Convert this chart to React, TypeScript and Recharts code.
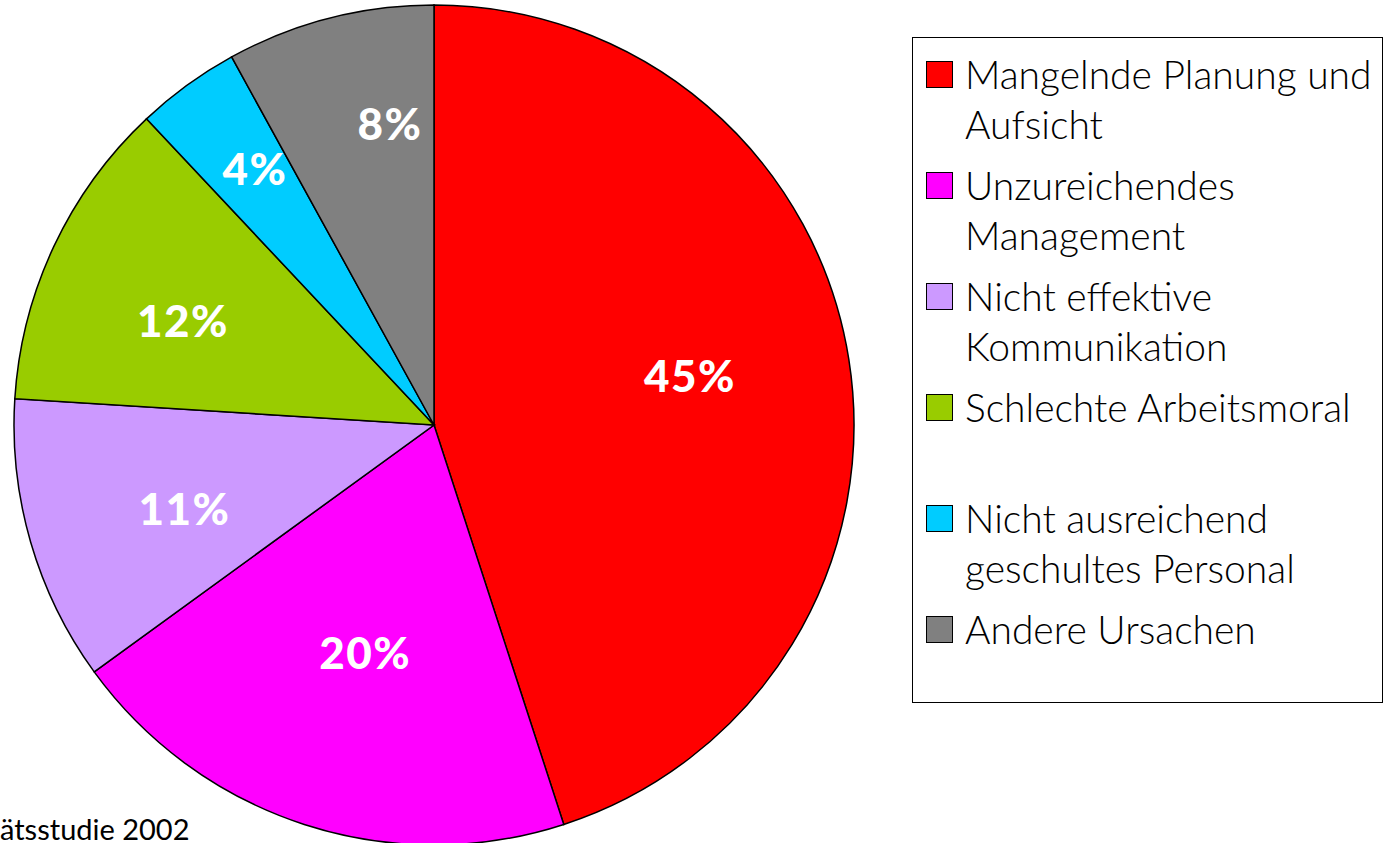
import { PieChart, Pie, Cell, Legend } from "recharts";

const categories = [
    "Mangelnde Planung und Aufsicht",
    "Unzureichendes Management",
    "Nicht effektive Kommunikation",
    "Schlechte Arbeitsmoral",
    "Nicht ausreichend geschultes Personal",
    "Andere Ursachen",
];
const shares = [45, 20, 11, 12, 4, 8];
const colors = ["#FF0000", "#FF00FF", "#CC99FF", "#99CC00", "#00CCFF", "#808080"];
const source = "ätsstudie 2002";

const data = categories.map((name, i) => ({ name, value: shares[i] }));

// labels were hand placed in the original, so nudge them per slice
const labelRadius = [0.621, 0.564, 0.626, 0.648, 0.745, 0.726];
const labelTurn = [-2, -1.1, -2.2, -2.5, 1.1, 6.1]; // degrees, clockwise
const RAD = Math.PI / 180;

const renderLabel = (props: any) => {
    const { cx, cy, midAngle, outerRadius, index, value } = props;
    const r = outerRadius * labelRadius[index];
    const a = (midAngle - labelTurn[index]) * RAD;
    const x = cx + r * Math.cos(-a);
    const y = cy + r * Math.sin(-a);
    return (
        <text
            x={x}
            y={y}
            fill="#fff"
            textAnchor="middle"
            dominantBaseline="central"
            style={{ fontFamily: "Lato", fontWeight: 900, fontSize: 44, letterSpacing: 1.5 }}
        >
            {value}%
        </text>
    );
};

const LegendBox = () => (
    <div
        style={{
            boxSizing: "border-box",
            width: 471,
            height: 666,
            border: "1.5px solid #000",
            paddingTop: 11,
            fontFamily: "Lato",
            fontWeight: 300,
            fontSize: 39,
            color: "#000",
        }}
    >
        {categories.map((name, i) => (
            <div key={name} style={{ display: "flex", height: 111 }}>
                <div
                    style={{
                        width: 25,
                        height: 25,
                        marginLeft: 13,
                        marginTop: 12,
                        background: colors[i],
                        border: "1.5px solid #000",
                        flexShrink: 0,
                    }}
                />
                <div style={{ marginLeft: 12, width: 415, lineHeight: "50px" }}>{name}</div>
            </div>
        ))}
    </div>
);

const App = () => {
    return (
        <div
            style={{
                position: "fixed",
                left: 0,
                top: 0,
                width: 1385,
                height: 843,
                overflow: "hidden",
                background: "#fff",
            }}
        >
            <PieChart width={1385} height={843} margin={{ top: 0, right: 0, bottom: 0, left: 0 }}>
                <Pie
                    data={data}
                    dataKey="value"
                    nameKey="name"
                    cx={434}
                    cy={425}
                    outerRadius={420}
                    startAngle={90}
                    endAngle={-270}
                    stroke="#000"
                    strokeWidth={1.5}
                    label={renderLabel}
                    labelLine={false}
                    isAnimationActive={false}
                >
                    {data.map((d, i) => (
                        <Cell key={d.name} fill={colors[i]} />
                    ))}
                </Pie>
                <Legend
                    layout="vertical"
                    align="right"
                    verticalAlign="top"
                    content={() => <LegendBox />}
                    wrapperStyle={{ left: 912, top: 37, width: 471, height: 666 }}
                />
            </PieChart>
            <div
                style={{
                    position: "absolute",
                    left: 0,
                    top: 817,
                    fontFamily: "Lato",
                    fontSize: 29,
                    lineHeight: "24px",
                    color: "#000",
                    whiteSpace: "nowrap",
                }}
            >
                {source}
            </div>
        </div>
    );
};

export default App;
